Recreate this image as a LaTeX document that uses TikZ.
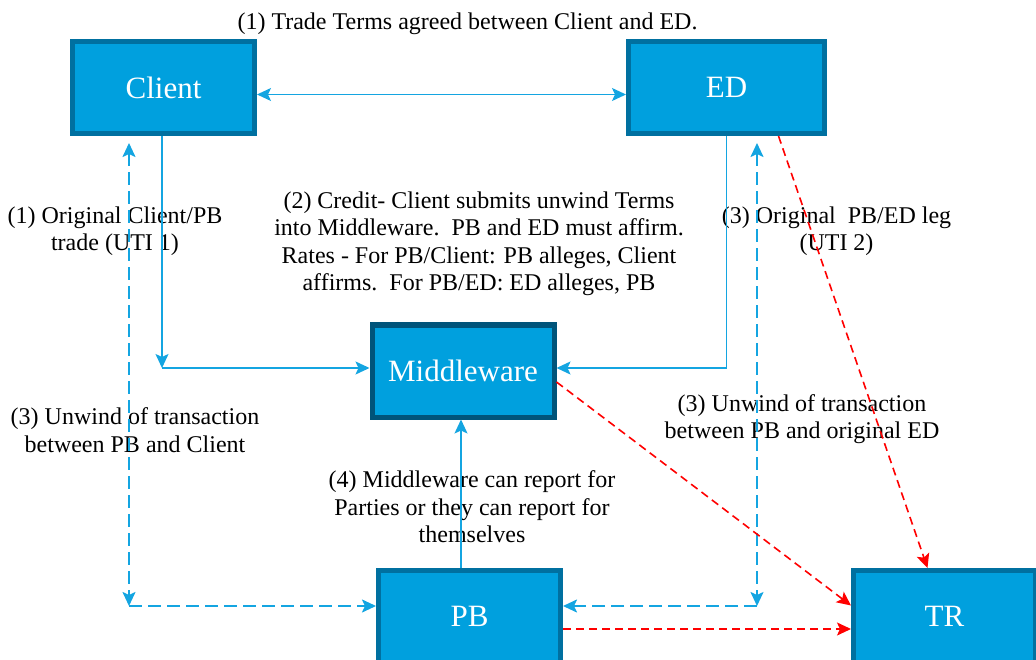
\documentclass[tikz,border=0pt]{standalone}
\usepackage{fontspec}
\setmainfont{Liberation Serif}
\usetikzlibrary{arrows.meta,calc,positioning}

\definecolor{boxfill}{RGB}{0,160,222}
\definecolor{boxline}{RGB}{0,112,160}
\definecolor{mwline}{RGB}{0,84,122}
\definecolor{linkblue}{RGB}{20,165,225}

\tikzset{
  box/.style={draw=boxline, fill=boxfill, line width=5pt, inner sep=0pt,
    minimum width=182pt, minimum height=92pt, text=white,
    font=\fontsize{31}{36}\selectfont},
  note/.style={align=center, font=\fontsize{24}{27.5}\selectfont},
  tip/.style={-{Stealth[length=14pt,width=13pt,inset=3pt]}},
  link/.style={draw=linkblue, line width=1.5pt},
  unwind/.style={draw=linkblue, line width=2pt, dash pattern=on 13pt off 6pt},
  report/.style={draw=red, line width=1.6pt, dash pattern=on 8pt off 5pt}
}

\begin{document}
\begin{tikzpicture}[x=1pt,y=-1pt]
\useasboundingbox (0,0) rectangle (1036,660);

% boxes
\node[box] (client) at (163.5,87.5) {Client};
\node[box, minimum width=196pt] (ed) at (726.5,87.5) {ED};
\node[box, draw=mwline] (mw) at (463,371) {Middleware};
\node[box] (pb) at (469.5,616.5) {PB};
\node[box] (tr) at (944.5,616.5) {TR};

% notes
\node[note] (n1) at (467.5,24) {(1) Trade Terms agreed between Client and ED.};
\node[note] (n2) at (115,231) {(1) Original Client/PB\\trade (UTI 1)};
\node[note] (n3) at (479,244) {(2) Credit- Client submits unwind Terms\\into Middleware.\ \ PB and ED must affirm.\\Rates - For PB/Client: PB alleges, Client\\affirms.\ \ For PB/ED: ED alleges, PB};
\node[note] (n4) at (836.5,231) {(3) Original\ \ PB/ED leg\\(UTI 2)};
\node[note] (n5) at (135,430) {(3) Unwind of transaction\\between PB and Client};
\node[note] (n6) at (802,419) {(3) Unwind of transaction\\between PB and original ED};
\node[note] (n7) at (472,507) {(4) Middleware can report for\\Parties or they can report for\\themselves};

% corners
\coordinate (c1) at (162,368);
\coordinate (c2) at (129,143);
\coordinate (c3) at (129,606);
\coordinate (c4) at (757,143);
\coordinate (c5) at (757,606);

% trade terms
\draw[link, {Stealth[length=14pt,width=13pt,inset=3pt]}-{Stealth[length=14pt,width=13pt,inset=3pt]}]
  ($(client.east)+(0,7)$) -- ($(ed.west)+(0,7)$);
% submit to middleware
\draw[link, tip] (client.south -| c1) -- (c1);
\draw[link, tip] (c1) -- (mw.west |- c1);
\draw[link, tip] (ed.south) |- (mw.east |- c1);
\draw[link, tip] (pb.north -| 461,0) -- (mw.south -| 461,0);

% unwinds
\draw[unwind, {Stealth[length=14pt,width=13pt,inset=3pt]}-{Stealth[length=14pt,width=13pt,inset=3pt]}] (c2) -- (c3);
\draw[unwind, tip] (c3) -- (pb.west |- c3);
\draw[unwind, {Stealth[length=14pt,width=13pt,inset=3pt]}-{Stealth[length=14pt,width=13pt,inset=3pt]}] (c4) -- (c5);
\draw[unwind, tip] (c5) -- (pb.east |- c5);

% reporting
\draw[report, tip] ($(ed.south)+(52,0)$) -- ($(tr.north)+(-17,0)$);
\draw[report, tip] ($(mw.east)+(0,11)$) -- ($(tr.west)+(0,-11)$);
\draw[report, tip] ($(pb.east)+(0,12.5)$) -- ($(tr.west)+(0,12.5)$);
\end{tikzpicture}
\end{document}
